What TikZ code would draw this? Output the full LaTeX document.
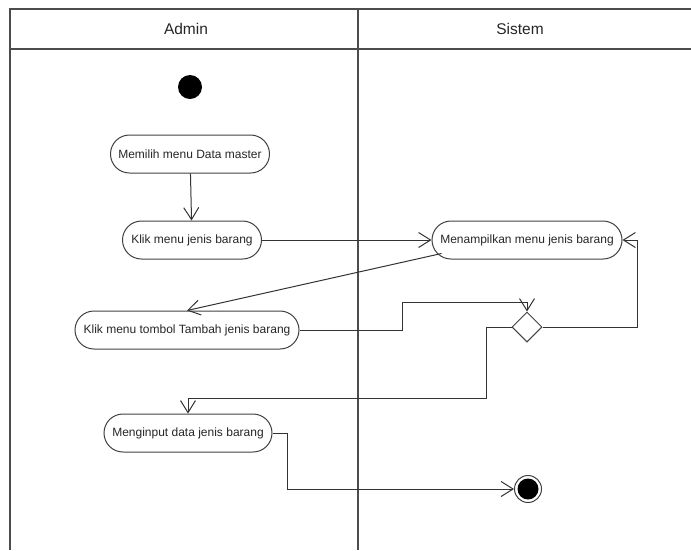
\documentclass[tikz,border=0pt]{standalone}
\usepackage{fontspec}
\setmainfont{Liberation Sans}
\usetikzlibrary{shapes.geometric,arrows.meta}

\begin{document}
\begin{tikzpicture}[x=1pt,y=-1pt,
	aksi/.style={rectangle,rounded corners=19pt,draw=black!75,line width=1pt,minimum height=38pt,inner sep=0pt,font=\fontsize{12}{14}\selectfont,text=black!85},
	awal/.style={circle,fill=black,minimum size=24pt,inner sep=0pt},
	akhir/.style={circle,draw=black!75,line width=1pt,minimum size=27pt,inner sep=0pt,path picture={\fill[black] (path picture bounding box.center) circle (10.5pt);}},
	cabang/.style={diamond,draw=black!75,line width=1pt,minimum size=30pt,inner sep=0pt},
	judul/.style={font=\fontsize{15.5}{18}\selectfont,text=black!85},
	alur/.style={draw=black!80,line width=1pt,-{Straight Barb[length=12pt,width=15pt]}},
	lajur/.style={draw=black!70,line width=1.2pt}]

	\useasboundingbox (0,0) rectangle (691,550);

	% swimlanes
	\draw[lajur] (10,550) -- (10,9) -- (691,9);
	\draw[lajur] (10,49) -- (691,49);
	\draw[lajur] (358,9) -- (358,550);
	\node[judul] (admin) at (186,29) {Admin};
	\node[judul] (sistem) at (520,29) {Sistem};

	\node[awal] (mulai) at (190,87) {};
	\node[aksi,minimum width=159pt] (pilih) at (190,154) {Memilih menu Data master};
	\node[aksi,minimum width=139pt] (klik) at (192,240) {Klik menu jenis barang};
	\node[aksi,minimum width=190pt] (tampil) at (527,240) {Menampilkan menu jenis barang};
	\node[aksi,minimum width=224pt] (tombol) at (187,330) {Klik menu tombol Tambah jenis barang};
	\node[cabang] (cek) at (527,327) {};
	\node[aksi,minimum width=168pt] (input) at (188,433) {Menginput data jenis barang};
	\node[akhir] (selesai) at (528,489) {};

	\draw[alur] (pilih) -- (klik);
	\draw[alur] (klik.east) -- (tampil.west);
	\draw[alur] ([shift={(10,-6)}]tampil.south west) -- (tombol.north);
	\draw[alur] (tombol.east) -- ++(103,0) -- ++(0,-28) -| (cek.north);
	\draw[alur] (cek.east) -- ++(95,0) |- (tampil.east);
	\draw[alur] (cek.west) -- ++(-25,0) -- ++(0,71) -| (input.north);
	\draw[alur] (input.east) -- ++(15,0) |- (selesai.west);

\end{tikzpicture}
\end{document}
